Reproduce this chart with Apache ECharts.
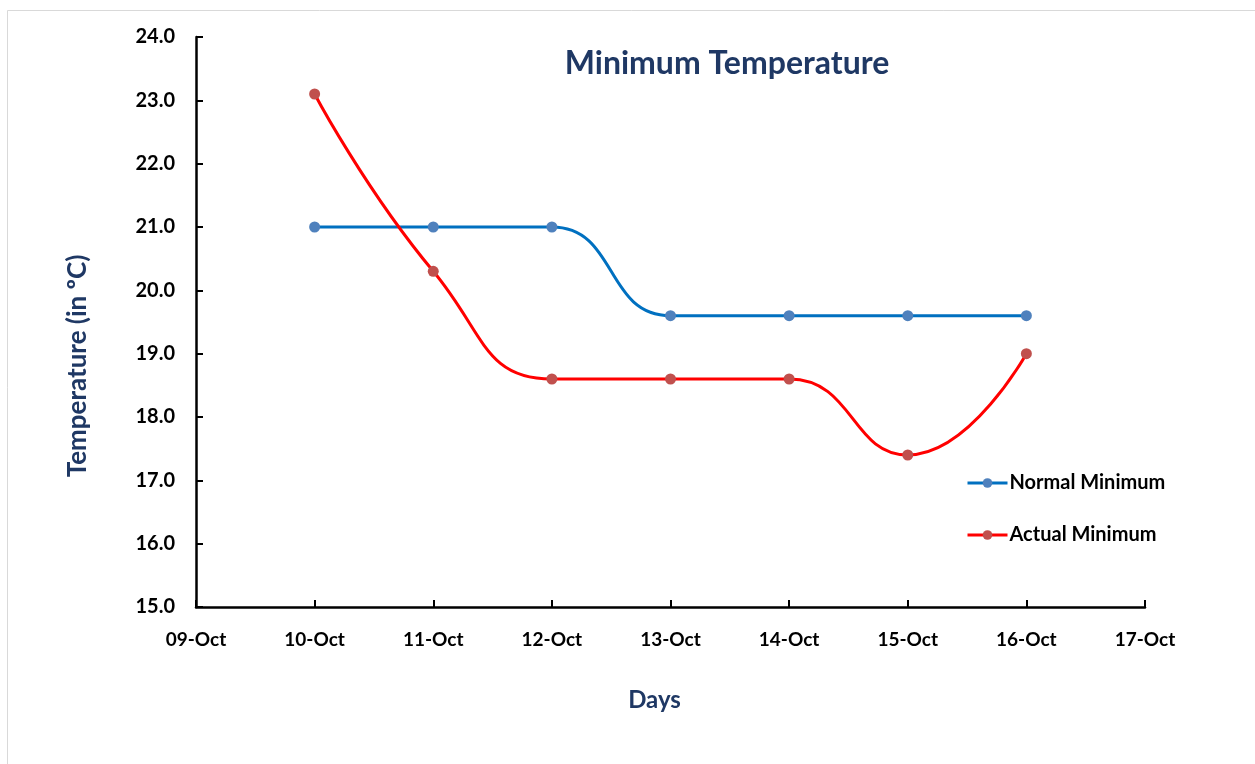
<!DOCTYPE html>
<html>
<head>
<meta charset="utf-8">
<script src="https://cdn.jsdelivr.net/npm/echarts@6/dist/echarts.min.js"></script>
<style>
  html, body { margin: 0; padding: 0; background: #fff; }
  #main { width: 1255px; height: 764px; }
</style>
</head>
<body>
<div id="main"></div>
<script>
// days on the x axis (first and last are just padding ticks)
var days = ['09-Oct', '10-Oct', '11-Oct', '12-Oct', '13-Oct', '14-Oct', '15-Oct', '16-Oct', '17-Oct'];
var normalMin = ['-', 21.0, 21.0, 21.0, 19.6, 19.6, 19.6, 19.6, '-'];
var actualMin = ['-', 23.1, 20.3, 18.6, 18.6, 18.6, 17.4, 19.0, '-'];

var fontFam = 'Lato, "Open Sans", sans-serif';
var navy = '#1f3864';

var myChart = echarts.init(document.getElementById('main'));

var option = {
    backgroundColor: '#fff',
    animation: false,
    graphic: [{
        type: 'rect',
        shape: {x: 7.5, y: 10.5, width: 1260, height: 770},
        style: {fill: 'none', stroke: '#d9d9d9', lineWidth: 1}
    }],
    title: {
        text: 'Minimum Temperature',
        left: 722,
        top: 43,
        textAlign: 'center',
        textStyle: {fontFamily: fontFam, fontSize: 32, fontWeight: 'bold', color: navy}
    },
    legend: {
        orient: 'vertical',
        left: 961,
        top: 468,
        itemGap: 32,
        itemWidth: 40,
        itemHeight: 12,
        lineStyle: {width: 3},
        textStyle: {fontFamily: fontFam, fontSize: 20, fontWeight: 'bold', color: '#000', padding: [0, 0, 0, -3]},
        data: ['Normal Minimum', 'Actual Minimum']
    },
    grid: {left: 196, right: 110, top: 37, bottom: 157},
    xAxis: {
        type: 'category',
        data: days,
        boundaryGap: false,
        name: 'Days',
        nameLocation: 'middle',
        nameGap: 81,
        nameTextStyle: {fontFamily: fontFam, fontSize: 24, fontWeight: 'bold', color: navy, padding: [0, 32, 0, 0]},
        axisLine: {lineStyle: {color: '#000', width: 2.5}},
        axisTick: {inside: true, length: 7, lineStyle: {color: '#000', width: 2}, alignWithLabel: true},
        axisLabel: {fontFamily: fontFam, fontSize: 19, fontWeight: 'bold', color: '#000', margin: 23, interval: 0},
        splitLine: {show: false}
    },
    yAxis: {
        type: 'value',
        min: 15,
        max: 24,
        interval: 1,
        name: 'Temperature (in ºC)',
        nameLocation: 'middle',
        nameGap: 105,
        nameTextStyle: {fontFamily: fontFam, fontSize: 26, fontWeight: 'bold', color: navy, padding: [0, 88, 0, 0]},
        axisLine: {show: true, lineStyle: {color: '#000', width: 2.5}},
        axisTick: {show: true, inside: true, length: 7, lineStyle: {color: '#000', width: 2}},
        axisLabel: {
            fontFamily: fontFam, fontSize: 20, fontWeight: 'bold', color: '#000', margin: 21,
            formatter: function (v) { return v.toFixed(1); }
        },
        splitLine: {show: false}
    },
    series: [{
        name: 'Normal Minimum',
        type: 'line',
        data: normalMin,
        smooth: 0.5,
        symbol: 'circle',
        symbolSize: 11,
        lineStyle: {color: '#0070c0', width: 3},
        itemStyle: {color: '#4f81bd'}
    }, {
        name: 'Actual Minimum',
        type: 'line',
        data: actualMin,
        smooth: 0.5,
        symbol: 'circle',
        symbolSize: 11,
        lineStyle: {color: '#ff0000', width: 3},
        itemStyle: {color: '#c0504d'}
    }]
};

myChart.setOption(option);
</script>
</body>
</html>
